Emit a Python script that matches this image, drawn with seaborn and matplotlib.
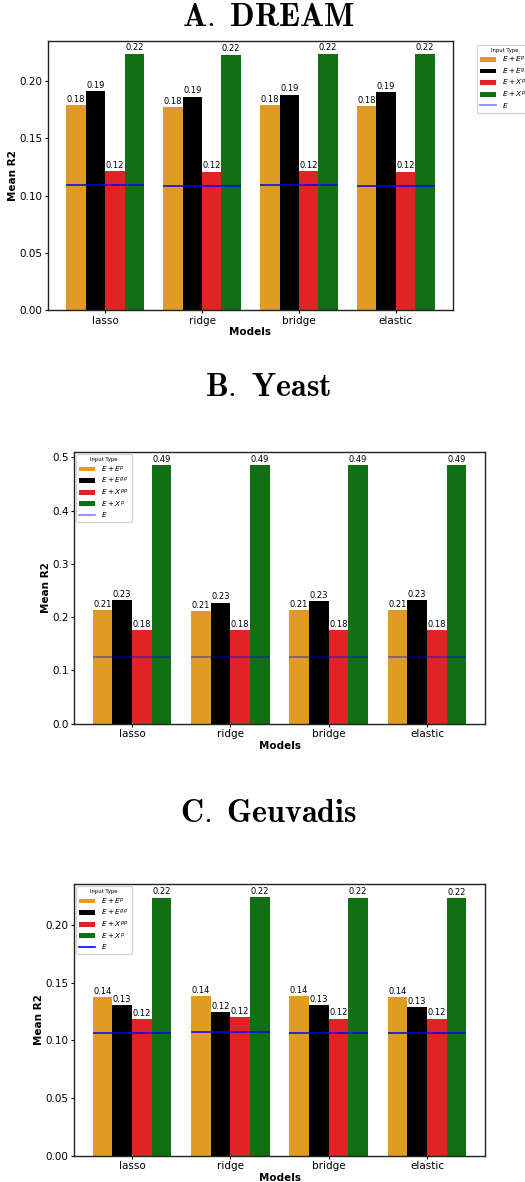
import numpy as np
import pandas as pd
import matplotlib
matplotlib.use("Agg")
import matplotlib.pyplot as plt
from matplotlib.patches import Patch
from matplotlib.lines import Line2D
import seaborn as sns

# ---- data -------------------------------------------------------------
models = ["lasso", "ridge", "bridge", "elastic"]
input_types = [r"$E + E^{p}$", r"$E + E^{gp}$", r"$E + X^{pp}$", r"$E + X^{p}$"]
baseline_label = r"$E$"

dream_ep = [0.179, 0.177, 0.179, 0.178]
dream_egp = [0.191, 0.1862, 0.188, 0.190]
dream_xpp = [0.1215, 0.1207, 0.1215, 0.1207]
dream_xp = [0.2235, 0.2227, 0.2235, 0.2235]
dream_e = [0.109, 0.108, 0.109, 0.1087]

yeast_ep = [0.2137, 0.2118, 0.2137, 0.2137]
yeast_egp = [0.2325, 0.2274, 0.2306, 0.2325]
yeast_xpp = [0.176, 0.176, 0.176, 0.176]
yeast_xp = [0.486, 0.486, 0.486, 0.486]
yeast_e = [0.1254, 0.1254, 0.1254, 0.1254]

geu_ep = [0.1374, 0.1385, 0.1382, 0.1374]
geu_egp = [0.1307, 0.1246, 0.1304, 0.1287]
geu_xpp = [0.1185, 0.1202, 0.119, 0.119]
geu_xp = [0.2241, 0.2246, 0.2241, 0.2236]
geu_e = [0.1063, 0.1071, 0.1066, 0.1066]

palette = ["#e09b24", "#000000", "#e02426", "#117014"]

W, H, DPI = 525, 1182, 100
fig = plt.figure(figsize=(W / DPI, H / DPI), dpi=DPI)
plt.rcParams["font.family"] = ["DejaVu Sans"]


def frame(series):
    rows = []
    for label, vals in zip(input_types, series):
        for m, v in zip(models, vals):
            rows.append({"Models": m, "Input Type": label, "Mean R2": v})
    return pd.DataFrame(rows)


def panel(rect, series, base, line_alpha, legend_outside):
    ax = fig.add_axes([rect[0] / W, 1 - rect[3] / H,
                       (rect[2] - rect[0]) / W, (rect[3] - rect[1]) / H])
    df = frame(series)
    sns.barplot(data=df, x="Models", y="Mean R2", hue="Input Type",
                hue_order=input_types, order=models, palette=palette,
                saturation=1, ax=ax, errorbar=None, legend=False)
    for cont in ax.containers:
        ax.bar_label(cont, fmt="%.2f", fontsize=6, padding=1)
    # baseline expression-only score across each model group
    xs = np.arange(len(models))
    ax.hlines(base, xs - 0.4, xs + 0.4, colors="blue", linewidth=1.1,
              alpha=line_alpha, zorder=5)
    ax.set_xlabel("Models", fontsize=7.5, fontweight="bold", labelpad=1)
    ax.set_ylabel("Mean R2", fontsize=7.5, fontweight="bold", labelpad=1)
    ax.tick_params(labelsize=7.5, length=2.5, pad=1.5)
    for s in ax.spines.values():
        s.set_linewidth(1.0)
        s.set_color("#222222")
    handles = [Patch(facecolor=c, label=l) for c, l in zip(palette, input_types)]
    handles.append(Line2D([0], [0], color="blue", lw=1.2,
                          alpha=0.5 if legend_outside or line_alpha < 1 else 1.0,
                          label=baseline_label))
    common = dict(handles=handles, title="Input Type", loc="upper left",
                  fontsize=5.3, title_fontsize=3.8, handlelength=2.2,
                  handleheight=0.6, labelspacing=0.22, borderpad=0.4)
    if legend_outside:
        ax.legend(bbox_to_anchor=(1.05, 1.0), **common)
    else:
        ax.legend(borderaxespad=0.3, **common)
    return ax


# panel rectangles in pixels: left, top, right, bottom
panel((48, 41, 453, 310.4), [dream_ep, dream_egp, dream_xpp, dream_xp],
      dream_e, 1.0, True)
panel((74, 452, 485, 723.7), [yeast_ep, yeast_egp, yeast_xpp, yeast_xp],
      yeast_e, 0.5, False)
panel((74, 884, 485, 1155.7), [geu_ep, geu_egp, geu_xpp, geu_xp],
      geu_e, 1.0, False)

for txt, y in [(r"$\mathbf{A.\ DREAM}$", 17),
               (r"$\mathbf{B.\ Yeast}$", 388),
               (r"$\mathbf{C.\ Geuvadis}$", 814)]:
    fig.text(268 / W, 1 - y / H, txt, ha="center", va="center",
             fontsize=23, math_fontfamily="cm")

fig.savefig("out.png", dpi=DPI)
